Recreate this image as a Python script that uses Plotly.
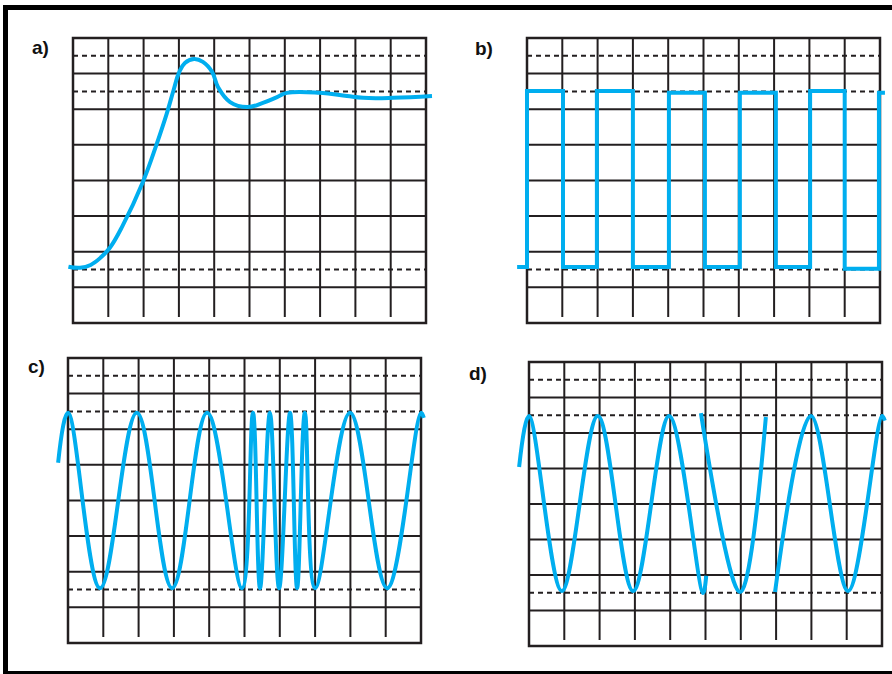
import plotly.graph_objects as go

W, H = 892, 674
BLUE = "#00AEEF"
INK = "#231F20"

# ---- waveform data (x in horizontal divisions, y in vertical divisions) ----
# a) step response with overshoot and ringing
a_x = [-0.13, 0.20, 0.50, 0.80, 1.05, 1.40, 1.98, 2.38, 2.66, 2.85, 3.00,
       3.17, 3.43, 3.68, 3.94, 4.11, 4.45, 4.93, 5.38, 5.78, 6.06, 7.00, 7.76,
       8.22, 9.07, 10.17]
a_y = [1.58, 1.55, 1.63, 1.85, 2.12, 2.72, 3.96, 5.05, 5.89, 6.54, 7.02,
       7.30, 7.41, 7.33, 7.05, 6.62, 6.20, 6.06, 6.18, 6.34, 6.46, 6.46, 6.37,
       6.32, 6.32, 6.37]

# b) square wave: edge positions and the level held after each edge
b_x = [-0.28, 0.00, 1.02, 1.98, 3.00, 4.02, 5.04, 6.03, 7.05, 8.02, 9.00, 9.97, 10.14]
b_y = [1.57, 6.51, 1.57, 6.51, 1.57, 6.46, 1.57, 6.46, 1.57, 6.51, 1.52, 6.46, 6.46]

# c) frequency-modulated sine: peaks and troughs
c_x = [-0.28, 0.00, 0.91, 1.95, 2.95, 3.94, 4.93, 5.24, 5.44, 5.72, 5.98, 6.29,
       6.49, 6.71, 7.00, 7.99, 9.04, 10.00, 10.08]
c_y = [5.06, 6.46, 1.54, 6.46, 1.54, 6.46, 1.54, 6.46, 1.54, 6.46, 1.54, 6.46,
       1.54, 6.46, 1.54, 6.46, 1.54, 6.46, 6.32]

# d) phase-shift keyed sine: three segments separated by phase jumps
d_x = [-0.28, 0.00, 0.93, 1.95, 2.95, 3.97, 4.93, 5.02, None,
       4.87, 5.98, 6.71, None,
       6.97, 7.99, 9.04, 10.00, 10.08]
d_y = [5.04, 6.48, 1.55, 6.48, 1.55, 6.48, 1.49, 1.98, None,
       6.56, 1.52, 6.45, None,
       1.52, 6.48, 1.55, 6.48, 6.35]

# ---- graticule ----
NX, NY = 10, 8
DASHED_LEVELS = [1.5, 6.5, 7.5]

# panel frames in page pixels: (left, top, right, bottom), and label centres
PANELS = [
    ("a)", (73, 38, 426, 323), (40, 47)),
    ("b)", (527, 38, 880, 323), (484, 48)),
    ("c)", (68, 358, 421, 643), (36, 366)),
    ("d)", (529, 362, 882, 646), (478, 374)),
]
PAD_L, PAD_R, PAD_T, PAD_B = 0.4, 0.25, 0.3, 0.3

SERIES = [
    (a_x, a_y, dict(shape="spline", smoothing=1.2)),
    (b_x, b_y, dict(shape="hv")),
    (c_x, c_y, dict(shape="spline", smoothing=1.1)),
    (d_x, d_y, dict(shape="spline", smoothing=1.0)),
]

fig = go.Figure()
layout = dict(
    width=W, height=H, margin=dict(l=0, r=0, t=0, b=0),
    paper_bgcolor="white", plot_bgcolor="rgba(0,0,0,0)",
    showlegend=False,
)
shapes = []
annotations = []

for i, ((label, (l, t, r, b), (lx, ly)), (xs, ys, lstyle)) in enumerate(zip(PANELS, SERIES)):
    n = "" if i == 0 else str(i + 1)
    ux = (r - l) / NX
    uy = (b - t) / NY
    xdom = [(l - PAD_L * ux) / W, (r + PAD_R * ux) / W]
    ydom = [1 - (b + PAD_B * uy) / H, 1 - (t - PAD_T * uy) / H]
    axis_common = dict(visible=False, showgrid=False, zeroline=False, fixedrange=True)
    layout["xaxis" + n] = dict(domain=xdom, range=[-PAD_L, NX + PAD_R],
                               anchor="y" + n, **axis_common)
    layout["yaxis" + n] = dict(domain=ydom, range=[-PAD_B, NY + PAD_T],
                               anchor="x" + n, **axis_common)
    xr, yr = "x" + n, "y" + n

    # vertical division lines stop a little short of the bottom frame
    for k in range(1, NX):
        shapes.append(dict(type="line", xref=xr, yref=yr, x0=k, x1=k, y0=0.17, y1=NY,
                           line=dict(color=INK, width=2), layer="below"))
    for k in range(1, NY):
        shapes.append(dict(type="line", xref=xr, yref=yr, x0=0, x1=NX, y0=k, y1=k,
                           line=dict(color=INK, width=2), layer="below"))
    for lev in DASHED_LEVELS:
        shapes.append(dict(type="line", xref=xr, yref=yr, x0=0, x1=NX, y0=lev, y1=lev,
                           line=dict(color=INK, width=2, dash="5px,4px"), layer="below"))
    shapes.append(dict(type="rect", xref=xr, yref=yr, x0=0, x1=NX, y0=0, y1=NY,
                       line=dict(color=INK, width=2.5), layer="below"))

    fig.add_trace(go.Scatter(
        x=xs, y=ys, mode="lines", xaxis=xr, yaxis=yr, connectgaps=False,
        line=dict(color=BLUE, width=4, **lstyle), hoverinfo="skip",
    ))

    annotations.append(dict(
        x=lx / W, y=1 - ly / H, xref="paper", yref="paper", text="<b>%s</b>" % label,
        showarrow=False, xanchor="center", yanchor="middle",
        font=dict(family="Liberation Sans Narrow, Arial Narrow, Liberation Sans, Arial",
                  size=19, color="#111111"),
    ))

# heavy outer frame (top, left, bottom)
def px_rect(x0, y0, x1, y1):
    return dict(type="rect", xref="paper", yref="paper",
                x0=x0 / W, x1=x1 / W, y0=1 - y1 / H, y1=1 - y0 / H,
                fillcolor="black", line=dict(width=0), layer="above")

shapes += [
    px_rect(3, 5, W, 10),
    px_rect(3, 5, 8, H),
    px_rect(3, 671, W, H),
]

layout["shapes"] = shapes
layout["annotations"] = annotations
fig.update_layout(**layout)
fig.write_html("out.html", config={"displayModeBar": False})
